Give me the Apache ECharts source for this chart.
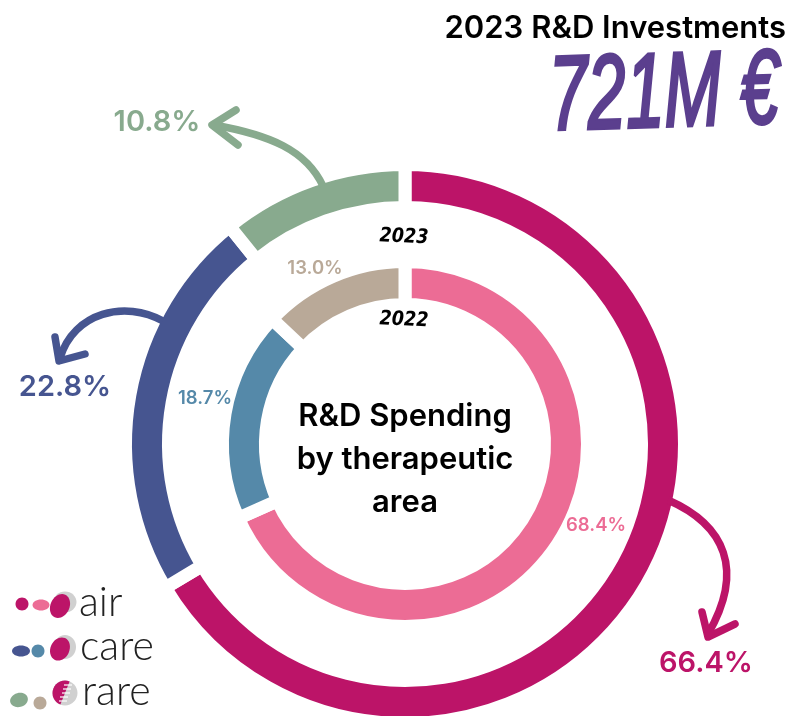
<!DOCTYPE html>
<html>
<head>
<meta charset="utf-8">
<title>R&D Spending by therapeutic area</title>
<style>
html, body { margin: 0; padding: 0; background: #fff; }
#chart { width: 791px; height: 716px; }
</style>
<script src="https://cdn.jsdelivr.net/npm/echarts@6/dist/echarts.min.js"></script>
</head>
<body>
<div id="chart"></div>
<script>
var areas = ['air', 'care', 'rare'];
var values2023 = [66.4, 22.8, 10.8];
var values2022 = [68.4, 18.7, 13.0];
var colors2023 = ['#bc1468', '#465590', '#88aa8e'];
var colors2022 = ['#ec6c95', '#5589a9', '#b9a998'];
var FONT = 'Inter';
var LIGHT = 'Lato';

var myChart = echarts.init(document.getElementById('chart'));

function ringData(values, colors) {
    return values.map(function (v, i) {
        return { name: areas[i], value: v, itemStyle: { color: colors[i] } };
    });
}

// label spots in px, [x, y] of label centre
var labelSpots2023 = [[706, 663], [65, 387], [157, 122]];
var labelSpots2022 = [[596, 525], [205, 398], [315, 268]];

function ring(name, values, colors, radius, spots, fontSize) {
    return {
        name: name,
        type: 'pie',
        center: [405, 444],
        radius: radius,
        startAngle: 90,
        clockwise: true,
        silent: true,
        animation: false,
        itemStyle: { borderColor: '#fff', borderWidth: 13 },
        label: {
            show: true,
            formatter: function (p) { return p.value.toFixed(1) + '%'; },
            fontFamily: FONT,
            fontWeight: 600,
            fontSize: fontSize,
            color: 'inherit',
            overflow: 'none',
            width: 200
        },
        labelLine: { show: false },
        labelLayout: function (p) {
            var s = spots[p.dataIndex];
            return { x: s[0], y: s[1], align: 'center', verticalAlign: 'middle' };
        },
        data: ringData(values, colors)
    };
}

function curve(p, color) {
    return {
        type: 'bezierCurve', silent: true, z: 10,
        shape: { x1: p[0], y1: p[1], cpx1: p[2], cpy1: p[3], cpx2: p[4], cpy2: p[5], x2: p[6], y2: p[7] },
        style: { stroke: color, lineWidth: 7.5, fill: null, lineCap: 'butt' }
    };
}
function head(pts, color) {
    return {
        type: 'polyline', silent: true, z: 10,
        shape: { points: pts },
        style: { stroke: color, lineWidth: 7.5, fill: null, lineCap: 'round', lineJoin: 'round' }
    };
}
function blob(x, y, rx, ry, color, rot) {
    return {
        type: 'ellipse', silent: true, z: 10, x: x, y: y, rotation: (rot || 0) * Math.PI / 180,
        shape: { cx: 0, cy: 0, rx: rx, ry: ry },
        style: { fill: color }
    };
}
function stripe(x1, y1, x2, y2, color) {
    return {
        type: 'line', silent: true, z: 11,
        shape: { x1: x1, y1: y1, x2: x2, y2: y2 },
        style: { stroke: color, lineWidth: 1.2 }
    };
}
function txt(s, x, y, size, opts) {
    opts = opts || {};
    return {
        type: 'text', silent: true, z: 10, x: x, y: y,
        rotation: opts.rotation || 0,
        scaleX: opts.scaleX || 1,
        scaleY: opts.scaleY || 1,
        style: {
            text: s,
            fontFamily: opts.family || FONT,
            fontSize: size,
            fontWeight: opts.weight || 500,
            fontStyle: opts.style || 'normal',
            lineHeight: opts.lineHeight,
            fill: opts.color || '#000',
            align: opts.align || 'center',
            verticalAlign: 'middle',
            stroke: opts.stroke,
            lineWidth: opts.strokeWidth,
            lineJoin: 'round'
        }
    };
}

var graphics = [
    // arrows
    curve([323, 186, 306, 150, 270, 135, 214, 125], colors2023[2]),
    head([[236, 110], [212, 125], [238, 145]], colors2023[2]),
    curve([163, 321, 125, 300, 74, 312, 60, 358], colors2023[1]),
    head([[55, 337], [59, 361], [85, 354]], colors2023[1]),
    curve([668, 500, 725, 525, 745, 570, 708, 634], colors2023[0]),
    head([[702, 612], [708, 637], [735, 624]], colors2023[0]),

    // headline number and year tags
    txt('721M €', 664, 97, 88, { family: 'Liberation Sans', weight: 400, style: 'italic', color: '#5b3f8e', stroke: '#5b3f8e', strokeWidth: 3, scaleX: 0.78, scaleY: 1.2, rotation: 0.03 }),
    txt('2023', 404, 237, 20, { family: 'DejaVu Sans', weight: 700, style: 'italic', scaleX: 0.88, rotation: -0.04 }),
    txt('2022', 404, 320, 20, { family: 'DejaVu Sans', weight: 700, style: 'italic', scaleX: 0.88, rotation: -0.04 }),

    // centre text
    txt('R&D Spending\nby therapeutic\narea', 405, 460, 31, { lineHeight: 43, weight: 600 }),

    // legend
    blob(22, 604, 6.5, 6.5, colors2023[0]),
    blob(41, 605, 8.5, 5.5, colors2022[0]),
    blob(65, 602, 11.5, 10.5, '#d0d0d0'),
    blob(60, 606, 9.5, 12.5, colors2023[0], -25),
    txt(areas[0], 79, 603, 41, { family: LIGHT, weight: 300, align: 'left', color: '#222' }),

    blob(21, 651, 9, 5.5, colors2023[1]),
    blob(38, 651, 6.5, 6.5, colors2022[1]),
    blob(65, 647, 11, 12, '#d0d0d0'),
    blob(60, 649, 9.5, 12, colors2023[0], -25),
    txt(areas[1], 80, 647, 41, { family: LIGHT, weight: 300, align: 'left', color: '#222' }),

    blob(19, 700, 9, 7, colors2023[2], 15),
    blob(40, 703, 6.5, 6.5, colors2022[2]),
    blob(65, 693, 12.5, 12.5, '#d0d0d0'),
    {
        type: 'sector', silent: true, z: 10,
        shape: { cx: 65, cy: 693, r: 12.5, r0: 0, startAngle: Math.PI * 0.62, endAngle: Math.PI * 1.62 },
        style: { fill: colors2023[0] }
    },
    stripe(64, 685, 72, 685, '#fff'),
    stripe(63, 689, 71, 689, '#fff'),
    stripe(62, 693, 70, 693, '#fff'),
    stripe(60, 697, 68, 697, '#fff'),
    stripe(59, 701, 67, 701, '#fff'),
    txt(areas[2], 82, 692, 41, { family: LIGHT, weight: 300, align: 'left', color: '#222' })
];

var option = {
    backgroundColor: '#fff',
    animation: false,
    title: {
        text: '2023 R&D Investments',
        right: 0,
        top: 8,
        textStyle: { fontFamily: FONT, fontSize: 31, fontWeight: 600, color: '#000' }
    },
    series: [
        ring('2023', values2023, colors2023, [236.5, 279.5], labelSpots2023, 29),
        ring('2022', values2022, colors2022, [139.5, 182.5], labelSpots2022, 18.5)
    ],
    graphic: { elements: graphics }
};
myChart.setOption(option);
window.addEventListener('resize', function () {
    myChart.resize();
});
</script>
</body>
</html>
